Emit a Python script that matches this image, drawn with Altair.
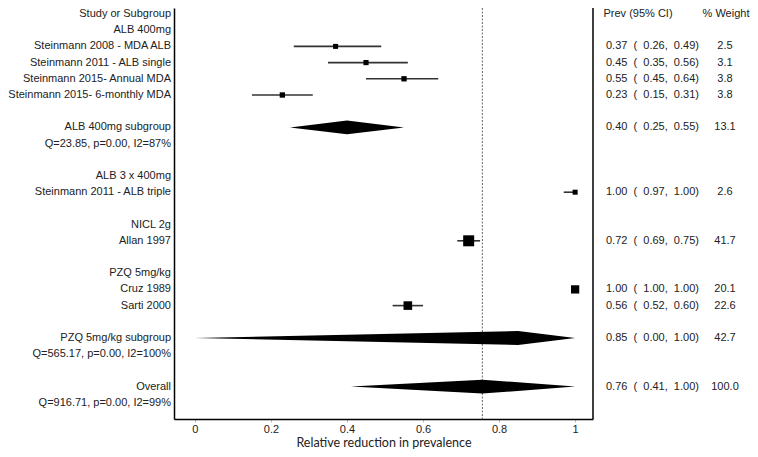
import altair as alt
import pandas as pd

# ---------------- data ----------------
left_labels = [
    "Study or Subgroup", "ALB 400mg", "Steinmann 2008 - MDA ALB",
    "Steinmann 2011 - ALB single", "Steinmann 2015- Annual MDA",
    "Steinmann 2015- 6-monthly MDA", "ALB 400mg subgroup",
    "Q=23.85, p=0.00, I2=87%", "ALB 3 x 400mg", "Steinmann 2011 - ALB triple",
    "NICL 2g", "Allan 1997", "PZQ 5mg/kg", "Cruz 1989", "Sarti 2000",
    "PZQ 5mg/kg subgroup", "Q=565.17, p=0.00, I2=100%", "Overall",
    "Q=916.71, p=0.00, I2=99%",
]
left_rows = [0, 1, 2, 3, 4, 5, 7, 8, 10, 11, 13, 14, 16, 17, 18, 20, 21, 23, 24]

study_names = [
    "Steinmann 2008 - MDA ALB", "Steinmann 2011 - ALB single",
    "Steinmann 2015- Annual MDA", "Steinmann 2015- 6-monthly MDA",
    "Steinmann 2011 - ALB triple", "Allan 1997", "Cruz 1989", "Sarti 2000",
]
study_rows = [2, 3, 4, 5, 11, 14, 17, 18]
study_est = [0.37, 0.45, 0.55, 0.23, 1.00, 0.72, 1.00, 0.56]
study_lo = [0.26, 0.35, 0.45, 0.15, 0.97, 0.69, 1.00, 0.52]
study_hi = [0.49, 0.56, 0.64, 0.31, 1.00, 0.75, 1.00, 0.60]
study_w = [2.5, 3.1, 3.8, 3.8, 2.6, 41.7, 20.1, 22.6]

pooled_names = ["ALB 400mg subgroup", "PZQ 5mg/kg subgroup", "Overall"]
pooled_rows = [7, 20, 23]
pooled_est = [0.40, 0.85, 0.756]
pooled_lo = [0.25, 0.00, 0.41]
pooled_hi = [0.55, 1.00, 1.00]
pooled_w = [13.1, 42.7, 100.0]

header_labels = ["Prev (95% CI)", "% Weight"]

# ---------------- tables ----------------
NB = "\u00a0"


def ci_text(e, l, h):
    return f"{e:.2f}{NB*2}({NB*2}{l:.2f},{NB*2}{h:.2f})"


studies = pd.DataFrame({
    "name": study_names, "row": study_rows, "est": study_est,
    "lo": study_lo, "hi": study_hi, "w": study_w,
})
pooled = pd.DataFrame({
    "name": pooled_names, "row": pooled_rows, "est": pooled_est,
    "lo": pooled_lo, "hi": pooled_hi, "w": pooled_w,
})
right = pd.concat([studies, pooled], ignore_index=True)
right["ci"] = [ci_text(e, l, h) for e, l, h in zip(right.est, right.lo, right.hi)]
right["wt"] = [f"{w:.1f}" for w in right.w]

HALF = 0.43
dia_rows = []
for name, row, est, lo, hi in zip(pooled_names, pooled_rows, pooled_est, pooled_lo, pooled_hi):
    dia_rows.append({"g": name, "x": float(lo), "y": float(row), "y2": float(row)})
    dia_rows.append({"g": name, "x": float(est), "y": row - HALF, "y2": row + HALF})
    dia_rows.append({"g": name, "x": float(hi), "y": float(row), "y2": float(row)})
diamonds = pd.DataFrame(dia_rows)

left = pd.DataFrame({"label": left_labels, "row": left_rows})
headers = pd.DataFrame({"label": header_labels, "row": [0, 0]})
overall = pooled[pooled.name == "Overall"]

# ---------------- scales / axes ----------------
W, H = 419, 411
FONT = "Arial, Liberation Sans, Helvetica, sans-serif"
TXT = "#222222"

xscale = alt.Scale(domain=[-0.055, 1.047], nice=False, zero=False)
yscale = alt.Scale(domain=[-0.37, 25], nice=False, zero=False, reverse=True)
xaxis = alt.Axis(
    values=[0, 0.2, 0.4, 0.6, 0.8, 1], format="~g", grid=False,
    labelFont=FONT, labelFontSize=11, labelColor=TXT, labelPadding=1,
    tickSize=3, tickColor="#bbbbbb", domainColor="black", domainWidth=1.5,
    title="Relative reduction in prevalence", titleFont="Lato",
    titleFontSize=12.5, titleFontWeight="normal", titleColor=TXT, titlePadding=2,
)
yaxis = alt.Axis(labels=False, ticks=False, grid=False, domainColor="black",
                 domainWidth=1.5, title=None)
Y = alt.Y("row:Q", scale=yscale, axis=yaxis)

ci = alt.Chart(studies).mark_rule(color="#333333", strokeWidth=1.6).encode(
    x=alt.X("lo:Q", scale=xscale, axis=xaxis), x2="hi:Q", y=Y)

sq = alt.Chart(studies).mark_square(color="black", opacity=1).encode(
    x=alt.X("est:Q", scale=xscale, axis=xaxis), y=Y,
    size=alt.Size("w:Q", scale=alt.Scale(domain=[0, 41.7], range=[19, 121]), legend=None))

dia = alt.Chart(diamonds).mark_area(color="black", orient="vertical", opacity=1).encode(
    x=alt.X("x:Q", scale=xscale, axis=xaxis),
    y=alt.Y("y:Q", scale=yscale, axis=yaxis, stack=False), y2="y2:Q",
    detail="g:N")

vline = alt.Chart(overall).mark_rule(color="#666666", strokeWidth=1, strokeDash=[2, 1.5]).encode(
    x=alt.X("est:Q", scale=xscale, axis=xaxis), y=alt.value(0), y2=alt.value(H))

rframe = alt.Chart(overall).mark_rule(color="black", strokeWidth=1.5).encode(
    x=alt.value(W), y=alt.value(0), y2=alt.value(H))

ltext = alt.Chart(left).mark_text(align="right", baseline="middle", font=FONT,
                                  fontSize=11, color=TXT).encode(
    x=alt.value(-3), y=Y, text="label:N")

citext = alt.Chart(right).mark_text(align="left", baseline="middle", font=FONT,
                                    fontSize=11, color=TXT).encode(
    x=alt.value(432), y=Y, text="ci:N")

wtext = alt.Chart(right).mark_text(align="center", baseline="middle", font=FONT,
                                   fontSize=11, color=TXT).encode(
    x=alt.value(551), y=Y, text="wt:N")

h1 = alt.Chart(headers[headers.label == "Prev (95% CI)"]).mark_text(
    align="center", baseline="middle", font=FONT, fontSize=11, color=TXT).encode(
    x=alt.value(464), y=Y, text="label:N")
h2 = alt.Chart(headers[headers.label == "% Weight"]).mark_text(
    align="center", baseline="middle", font=FONT, fontSize=11, color=TXT).encode(
    x=alt.value(552), y=Y, text="label:N")

chart = alt.layer(vline, ci, sq, dia, rframe, ltext, citext, wtext, h1, h2).properties(
    width=W, height=H,
    padding={"left": 166, "top": 0, "right": 157, "bottom": 30},
    autosize=alt.AutoSizeParams(type="none"),
    background="white",
).configure_view(stroke=None)

chart.save("out.html", embed_options={"renderer": "svg", "actions": False})
